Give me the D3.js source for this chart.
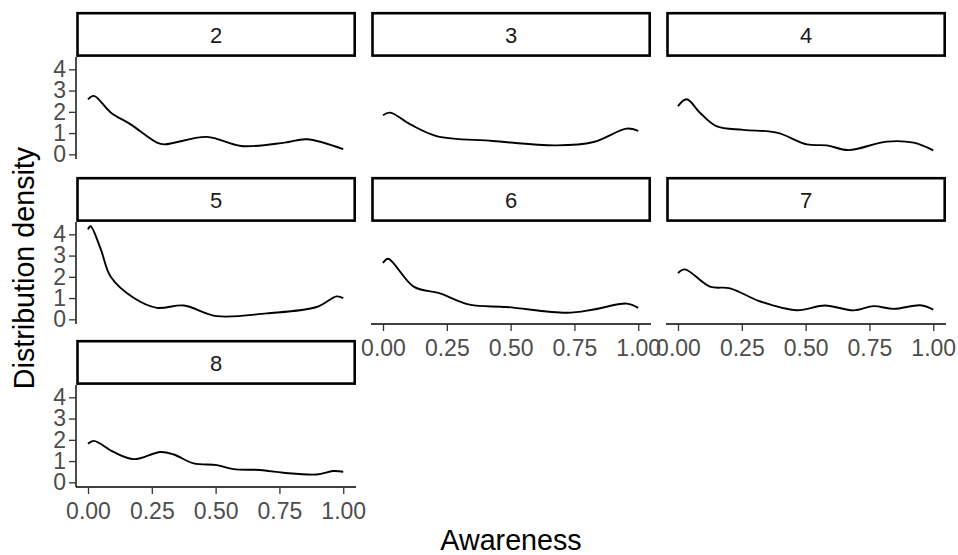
<!DOCTYPE html>
<html><head><meta charset="utf-8">
<script src="https://cdn.jsdelivr.net/npm/d3@7"></script>
<style>body{margin:0;background:#fff}svg{display:block}text{font-family:"Liberation Sans",Arial,sans-serif}</style>
</head><body>
<script>
const panels = ["2","3","4","5","6","7","8"];
const xTicks = [0, 0.25, 0.5, 0.75, 1];
const xTickLabels = ["0.00","0.25","0.50","0.75","1.00"];
const yTicks = [0,1,2,3,4];
const xLabel = "Awareness";
const yLabel = "Distribution density";

// density curves (awareness, density)
const awareness2 = [0,0.023,0.09,0.167,0.27,0.30,0.466,0.60,0.77,0.857,1.0];
const density2   = [2.59,2.75,1.96,1.41,0.55,0.47,0.82,0.39,0.55,0.71,0.24];
const awareness3 = [0,0.028,0.107,0.21,0.43,0.68,0.825,0.955,1.0];
const density3   = [1.84,1.96,1.41,0.86,0.63,0.42,0.58,1.21,1.10];
const awareness4 = [0,0.034,0.086,0.15,0.256,0.387,0.505,0.583,0.668,0.818,0.923,1.0];
const density4   = [2.27,2.59,1.96,1.33,1.15,1.02,0.47,0.42,0.20,0.60,0.55,0.19];
const awareness5 = [0,0.01,0.05,0.089,0.18,0.27,0.375,0.505,0.70,0.896,0.974,1.0];
const density5   = [4.23,4.38,3.3,2.0,1.0,0.54,0.65,0.15,0.28,0.58,1.08,1.0];
const awareness6 = [0,0.02,0.12,0.22,0.34,0.485,0.72,0.825,0.955,1.0];
const density6   = [2.65,2.85,1.54,1.23,0.69,0.58,0.31,0.46,0.74,0.54];
const awareness7 = [0,0.027,0.125,0.204,0.32,0.465,0.576,0.688,0.766,0.845,0.95,1.0];
const density7   = [2.18,2.35,1.54,1.46,0.85,0.43,0.65,0.42,0.62,0.49,0.66,0.46];
const awareness8 = [0,0.023,0.10,0.18,0.284,0.336,0.414,0.505,0.57,0.674,0.766,0.896,0.96,1.0];
const density8   = [1.82,1.95,1.43,1.09,1.43,1.31,0.89,0.81,0.62,0.58,0.45,0.37,0.53,0.50];

const series = {
  "2":[awareness2,density2],"3":[awareness3,density3],"4":[awareness4,density4],
  "5":[awareness5,density5],"6":[awareness6,density6],"7":[awareness7,density7],
  "8":[awareness8,density8]
};

const W = 958, H = 555;
const svg = d3.select("body").append("svg").attr("width",W).attr("height",H);

const colX = [76, 371, 666], panelW = 280;
const rowStripTop = [12, 177, 340], stripH = 45, panelH = 102;
const ncol = 3;
const tickFont = 23, stripFont = 22, titleFont = 28.7;

const x = d3.scaleLinear().domain([-0.047,1.05]).range([0,panelW]);
const y = d3.scaleLinear().domain([-0.22,4.58]).range([panelH,0]);
const line = d3.line().x(d=>x(d[0])).y(d=>y(d[1])).curve(d3.curveCatmullRom.alpha(0.5));

panels.forEach((p,i)=>{
  const r = Math.floor(i/ncol), c = i%ncol;
  const px = colX[c], sy = rowStripTop[r], py = sy+stripH;
  // strip
  const g = svg.append("g").attr("transform",`translate(${px},${sy})`);
  g.append("rect").attr("x",1.5).attr("y",1.2).attr("width",panelW-2.8).attr("height",stripH-2.6)
    .attr("fill","#fff").attr("stroke","#000").attr("stroke-width",2.6);
  g.append("text").attr("x",panelW/2).attr("y",stripH/2+1).attr("dy","0.36em")
    .attr("text-anchor","middle").attr("font-size",stripFont).attr("fill","#1a1a1a").text(p);
  const pg = svg.append("g").attr("transform",`translate(${px},${py})`);
  const [xs,ys] = series[p];
  pg.append("path").datum(xs.map((v,k)=>[v,ys[k]])).attr("d",line)
    .attr("fill","none").attr("stroke","#000").attr("stroke-width",1.9);
  // y axis on first column
  if (c===0) {
    const ya = pg.append("g").call(d3.axisLeft(y).tickValues(yTicks).tickFormat(d3.format("d")).tickSize(7).tickPadding(3));
    ya.attr("font-size",null).attr("font-family",null);
    ya.select(".domain").attr("stroke","#000").attr("stroke-width",1.4).attr("d",`M0,0V${panelH}`);
    ya.selectAll(".tick line").attr("stroke","#333").attr("stroke-width",1.3);
    ya.selectAll(".tick text").attr("font-size",tickFont).attr("fill","#4d4d4d");
  }
  // x axis on bottom panel of each column
  const isBottom = (i+ncol) >= panels.length;
  if (isBottom) {
    const xa = pg.append("g").attr("transform",`translate(0,${panelH})`)
      .call(d3.axisBottom(x).tickValues(xTicks).tickFormat((d,k)=>xTickLabels[k]).tickSize(7).tickPadding(8.5));
    xa.attr("font-size",null).attr("font-family",null);
    xa.select(".domain").attr("stroke","#000").attr("stroke-width",1.4).attr("d",`M0,0H${panelW}`);
    xa.selectAll(".tick line").attr("stroke","#333").attr("stroke-width",1.3);
    xa.selectAll(".tick text").attr("font-size",tickFont).attr("fill","#4d4d4d");
  }
});

svg.append("text").attr("x",511).attr("y",550).attr("text-anchor","middle")
  .attr("font-size",titleFont).attr("fill","#000").text(xLabel);
svg.append("text").attr("transform","translate(33.5,268) rotate(-90)").attr("text-anchor","middle")
  .attr("font-size",titleFont).attr("fill","#000").text(yLabel);
</script>
</body></html>
